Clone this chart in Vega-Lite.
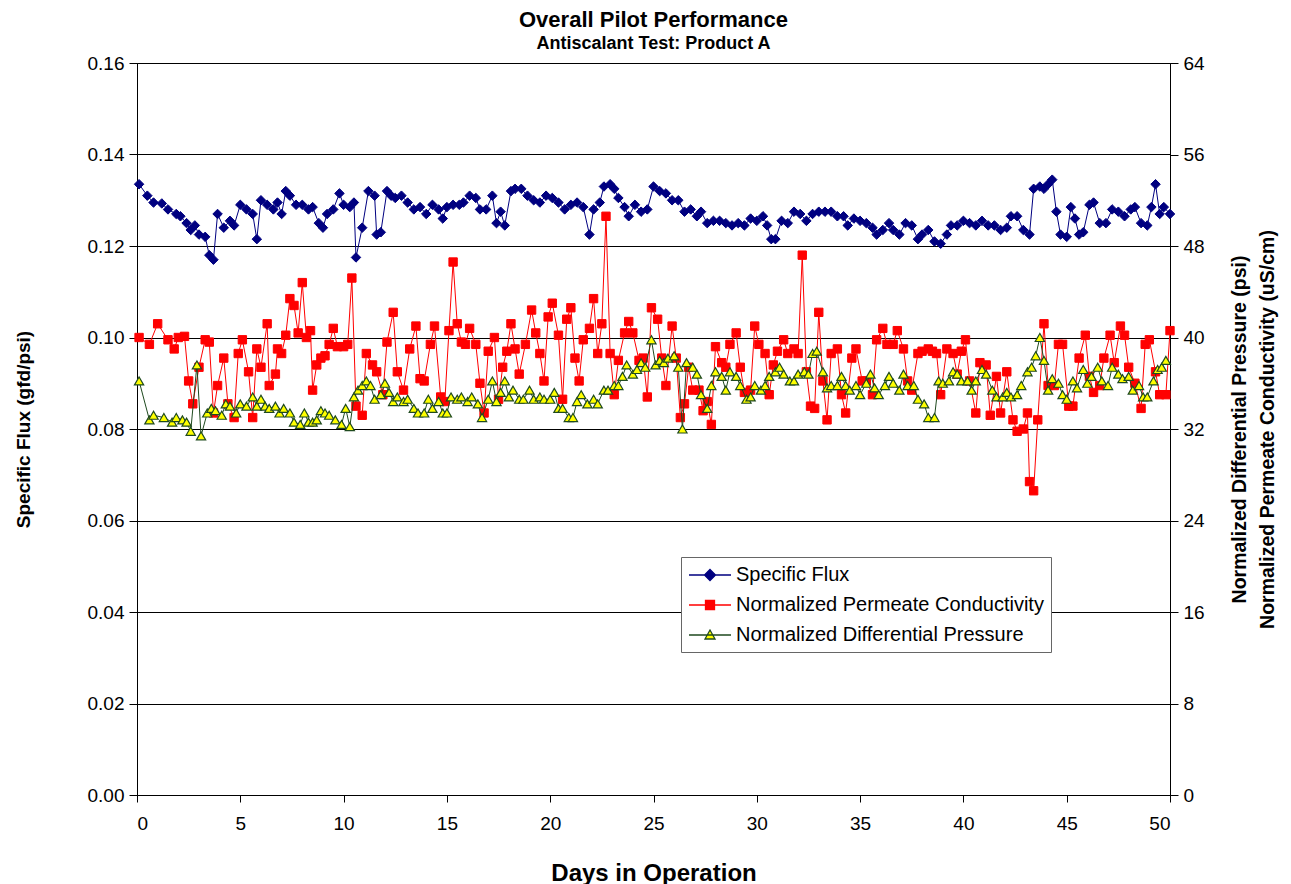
{
  "$schema": "https://vega.github.io/schema/vega-lite/v6.json",
  "width": 1033,
  "height": 732,
  "autosize": {"type": "none"},
  "padding": {"left": 137, "top": 63, "right": 121, "bottom": 89},
  "background": "white",
  "title": {
    "text": "Overall Pilot Performance",
    "subtitle": "Antiscalant Test: Product A",
    "anchor": "middle",
    "font": "Liberation Sans",
    "subtitleFont": "Liberation Sans",
    "fontSize": 22,
    "subtitleFontSize": 18,
    "fontWeight": "bold",
    "subtitleFontWeight": "bold",
    "color": "black",
    "subtitleColor": "black",
    "offset": 0,
    "subtitlePadding": 3
  },
  "datasets": {
    "flux": [
      {"day":0.1,"value":0.1335},{"day":0.5,"value":0.131},{"day":0.8,"value":0.1295},{"day":1.2,"value":0.1293},{"day":1.5,"value":0.128},{"day":1.9,"value":0.127},{"day":2.1,"value":0.1265},{"day":2.4,"value":0.125},{"day":2.6,"value":0.1235},{"day":2.8,"value":0.1245},{"day":3.0,"value":0.1225},{"day":3.3,"value":0.122},{"day":3.5,"value":0.118},{"day":3.7,"value":0.117},{"day":3.9,"value":0.127},{"day":4.2,"value":0.124},{"day":4.5,"value":0.1255},{"day":4.7,"value":0.1245},{"day":5.0,"value":0.129},{"day":5.3,"value":0.128},{"day":5.6,"value":0.127},{"day":5.8,"value":0.1215},{"day":6.0,"value":0.13},{"day":6.3,"value":0.129},{"day":6.6,"value":0.128},{"day":6.8,"value":0.1295},{"day":7.0,"value":0.127},{"day":7.2,"value":0.132},{"day":7.4,"value":0.131},{"day":7.7,"value":0.129},{"day":8.0,"value":0.129},{"day":8.3,"value":0.128},{"day":8.5,"value":0.1285},{"day":8.8,"value":0.125},{"day":9.0,"value":0.124},{"day":9.2,"value":0.127},{"day":9.5,"value":0.128},{"day":9.8,"value":0.1315},{"day":10.0,"value":0.129},{"day":10.3,"value":0.1285},{"day":10.5,"value":0.1295},{"day":10.6,"value":0.1175},{"day":10.9,"value":0.124},{"day":11.2,"value":0.132},{"day":11.5,"value":0.131},{"day":11.6,"value":0.1225},{"day":11.8,"value":0.123},{"day":12.1,"value":0.132},{"day":12.3,"value":0.131},{"day":12.5,"value":0.1305},{"day":12.8,"value":0.131},{"day":13.1,"value":0.1295},{"day":13.4,"value":0.128},{"day":13.7,"value":0.1285},{"day":14.0,"value":0.127},{"day":14.3,"value":0.129},{"day":14.6,"value":0.128},{"day":14.8,"value":0.126},{"day":15.0,"value":0.1285},{"day":15.3,"value":0.129},{"day":15.6,"value":0.129},{"day":15.8,"value":0.1295},{"day":16.1,"value":0.131},{"day":16.4,"value":0.1305},{"day":16.6,"value":0.128},{"day":16.9,"value":0.128},{"day":17.2,"value":0.131},{"day":17.4,"value":0.125},{"day":17.6,"value":0.1275},{"day":17.8,"value":0.1245},{"day":18.1,"value":0.132},{"day":18.3,"value":0.1325},{"day":18.6,"value":0.1325},{"day":18.9,"value":0.131},{"day":19.2,"value":0.13},{"day":19.5,"value":0.1295},{"day":19.8,"value":0.131},{"day":20.1,"value":0.1305},{"day":20.4,"value":0.1295},{"day":20.7,"value":0.128},{"day":21.0,"value":0.129},{"day":21.3,"value":0.1295},{"day":21.6,"value":0.1285},{"day":21.9,"value":0.1225},{"day":22.1,"value":0.128},{"day":22.4,"value":0.1295},{"day":22.6,"value":0.133},{"day":22.9,"value":0.1335},{"day":23.1,"value":0.1325},{"day":23.3,"value":0.1305},{"day":23.6,"value":0.1285},{"day":23.8,"value":0.1265},{"day":24.1,"value":0.129},{"day":24.4,"value":0.1275},{"day":24.7,"value":0.128},{"day":25.0,"value":0.133},{"day":25.3,"value":0.132},{"day":25.6,"value":0.1315},{"day":25.9,"value":0.13},{"day":26.2,"value":0.13},{"day":26.5,"value":0.1275},{"day":26.8,"value":0.128},{"day":27.1,"value":0.1265},{"day":27.3,"value":0.1275},{"day":27.6,"value":0.125},{"day":27.9,"value":0.1255},{"day":28.2,"value":0.1255},{"day":28.5,"value":0.125},{"day":28.8,"value":0.1245},{"day":29.1,"value":0.125},{"day":29.4,"value":0.1245},{"day":29.7,"value":0.126},{"day":30.0,"value":0.1255},{"day":30.3,"value":0.1265},{"day":30.5,"value":0.1245},{"day":30.7,"value":0.1215},{"day":30.9,"value":0.1215},{"day":31.2,"value":0.1255},{"day":31.5,"value":0.125},{"day":31.8,"value":0.1275},{"day":32.1,"value":0.127},{"day":32.4,"value":0.1255},{"day":32.7,"value":0.127},{"day":33.0,"value":0.1275},{"day":33.3,"value":0.1275},{"day":33.6,"value":0.1275},{"day":33.9,"value":0.1265},{"day":34.2,"value":0.1265},{"day":34.4,"value":0.1245},{"day":34.7,"value":0.126},{"day":35.0,"value":0.1255},{"day":35.3,"value":0.125},{"day":35.6,"value":0.124},{"day":35.8,"value":0.1225},{"day":36.1,"value":0.1235},{"day":36.4,"value":0.125},{"day":36.6,"value":0.1235},{"day":36.9,"value":0.1225},{"day":37.2,"value":0.125},{"day":37.5,"value":0.1245},{"day":37.8,"value":0.1215},{"day":38.0,"value":0.1225},{"day":38.3,"value":0.1235},{"day":38.6,"value":0.121},{"day":38.9,"value":0.1205},{"day":39.2,"value":0.1225},{"day":39.4,"value":0.1245},{"day":39.7,"value":0.1245},{"day":40.0,"value":0.1255},{"day":40.3,"value":0.125},{"day":40.6,"value":0.1245},{"day":40.9,"value":0.1255},{"day":41.2,"value":0.1245},{"day":41.5,"value":0.1245},{"day":41.8,"value":0.1235},{"day":42.1,"value":0.124},{"day":42.3,"value":0.1265},{"day":42.6,"value":0.1265},{"day":42.9,"value":0.1235},{"day":43.2,"value":0.1225},{"day":43.4,"value":0.1325},{"day":43.7,"value":0.133},{"day":43.9,"value":0.1325},{"day":44.1,"value":0.1335},{"day":44.3,"value":0.1345},{"day":44.5,"value":0.1275},{"day":44.7,"value":0.1225},{"day":45.0,"value":0.122},{"day":45.2,"value":0.1285},{"day":45.4,"value":0.126},{"day":45.6,"value":0.1225},{"day":45.8,"value":0.123},{"day":46.1,"value":0.129},{"day":46.3,"value":0.1295},{"day":46.6,"value":0.125},{"day":46.9,"value":0.125},{"day":47.2,"value":0.128},{"day":47.5,"value":0.1275},{"day":47.8,"value":0.1265},{"day":48.1,"value":0.128},{"day":48.3,"value":0.1285},{"day":48.6,"value":0.125},{"day":48.9,"value":0.1245},{"day":49.1,"value":0.1285},{"day":49.3,"value":0.1335},{"day":49.5,"value":0.127},{"day":49.7,"value":0.1285},{"day":50.0,"value":0.127}
    ],
    "conductivity": [
      {"day":0.1,"value":40.0},{"day":0.6,"value":39.4},{"day":1.0,"value":41.2},{"day":1.5,"value":39.8},{"day":1.8,"value":39.0},{"day":2.0,"value":40.0},{"day":2.3,"value":40.1},{"day":2.5,"value":36.2},{"day":2.7,"value":34.2},{"day":3.0,"value":37.4},{"day":3.3,"value":39.8},{"day":3.5,"value":39.6},{"day":3.7,"value":33.4},{"day":3.9,"value":35.8},{"day":4.2,"value":38.2},{"day":4.4,"value":34.2},{"day":4.7,"value":33.0},{"day":4.9,"value":38.6},{"day":5.1,"value":39.8},{"day":5.4,"value":37.0},{"day":5.6,"value":33.0},{"day":5.8,"value":39.0},{"day":6.0,"value":37.4},{"day":6.3,"value":41.2},{"day":6.4,"value":35.8},{"day":6.7,"value":36.8},{"day":6.8,"value":39.0},{"day":7.0,"value":38.6},{"day":7.2,"value":40.2},{"day":7.4,"value":43.4},{"day":7.6,"value":42.8},{"day":7.8,"value":40.4},{"day":8.0,"value":44.8},{"day":8.2,"value":40.0},{"day":8.4,"value":40.6},{"day":8.5,"value":35.4},{"day":8.7,"value":37.6},{"day":8.9,"value":38.2},{"day":9.1,"value":38.4},{"day":9.3,"value":39.4},{"day":9.5,"value":40.8},{"day":9.7,"value":39.2},{"day":10.0,"value":39.2},{"day":10.2,"value":39.4},{"day":10.4,"value":45.2},{"day":10.6,"value":34.0},{"day":10.9,"value":33.2},{"day":11.1,"value":38.6},{"day":11.4,"value":37.6},{"day":11.6,"value":37.0},{"day":11.9,"value":35.0},{"day":12.1,"value":39.6},{"day":12.4,"value":42.2},{"day":12.6,"value":37.0},{"day":12.9,"value":35.4},{"day":13.2,"value":39.0},{"day":13.5,"value":41.0},{"day":13.7,"value":36.4},{"day":13.9,"value":36.2},{"day":14.2,"value":39.4},{"day":14.4,"value":41.0},{"day":14.7,"value":34.8},{"day":14.9,"value":34.4},{"day":15.1,"value":40.6},{"day":15.3,"value":46.6},{"day":15.5,"value":41.2},{"day":15.7,"value":39.6},{"day":15.9,"value":39.4},{"day":16.1,"value":40.8},{"day":16.4,"value":39.4},{"day":16.6,"value":36.0},{"day":16.8,"value":33.4},{"day":17.0,"value":38.8},{"day":17.3,"value":40.0},{"day":17.5,"value":34.6},{"day":17.7,"value":37.4},{"day":17.9,"value":38.8},{"day":18.1,"value":41.2},{"day":18.3,"value":39.0},{"day":18.5,"value":36.8},{"day":18.8,"value":39.4},{"day":19.1,"value":42.4},{"day":19.3,"value":40.4},{"day":19.5,"value":38.6},{"day":19.7,"value":36.2},{"day":19.9,"value":41.8},{"day":20.1,"value":43.0},{"day":20.4,"value":40.2},{"day":20.6,"value":34.6},{"day":20.8,"value":41.6},{"day":21.0,"value":42.6},{"day":21.2,"value":38.2},{"day":21.4,"value":36.2},{"day":21.6,"value":39.8},{"day":21.9,"value":40.8},{"day":22.1,"value":43.4},{"day":22.3,"value":38.6},{"day":22.5,"value":41.2},{"day":22.7,"value":50.6},{"day":22.9,"value":38.6},{"day":23.1,"value":35.0},{"day":23.3,"value":38.0},{"day":23.6,"value":40.4},{"day":23.8,"value":41.4},{"day":24.0,"value":40.4},{"day":24.3,"value":38.0},{"day":24.5,"value":38.2},{"day":24.7,"value":34.8},{"day":24.9,"value":42.6},{"day":25.2,"value":41.6},{"day":25.4,"value":38.2},{"day":25.6,"value":35.8},{"day":25.9,"value":41.0},{"day":26.1,"value":38.2},{"day":26.3,"value":33.0},{"day":26.5,"value":34.2},{"day":26.7,"value":37.4},{"day":26.9,"value":35.4},{"day":27.2,"value":35.4},{"day":27.4,"value":33.6},{"day":27.6,"value":34.4},{"day":27.8,"value":32.4},{"day":28.0,"value":39.2},{"day":28.3,"value":37.8},{"day":28.5,"value":37.4},{"day":28.7,"value":39.4},{"day":29.0,"value":40.4},{"day":29.2,"value":37.4},{"day":29.4,"value":35.2},{"day":29.7,"value":35.4},{"day":29.9,"value":41.0},{"day":30.1,"value":39.4},{"day":30.4,"value":38.6},{"day":30.6,"value":35.0},{"day":30.8,"value":37.6},{"day":31.0,"value":38.8},{"day":31.3,"value":39.8},{"day":31.5,"value":38.6},{"day":31.8,"value":39.0},{"day":32.0,"value":38.6},{"day":32.2,"value":47.2},{"day":32.4,"value":37.0},{"day":32.6,"value":34.0},{"day":32.8,"value":33.8},{"day":33.0,"value":42.2},{"day":33.2,"value":36.2},{"day":33.4,"value":32.8},{"day":33.6,"value":38.6},{"day":33.9,"value":39.0},{"day":34.1,"value":35.0},{"day":34.3,"value":33.4},{"day":34.6,"value":38.2},{"day":34.8,"value":39.0},{"day":35.1,"value":36.2},{"day":35.3,"value":36.2},{"day":35.6,"value":35.0},{"day":35.8,"value":39.8},{"day":36.1,"value":40.8},{"day":36.3,"value":39.4},{"day":36.6,"value":39.4},{"day":36.8,"value":40.6},{"day":37.1,"value":39.0},{"day":37.3,"value":36.2},{"day":37.5,"value":35.4},{"day":37.8,"value":38.6},{"day":38.0,"value":38.8},{"day":38.3,"value":39.0},{"day":38.5,"value":38.8},{"day":38.7,"value":38.6},{"day":38.9,"value":35.0},{"day":39.2,"value":39.0},{"day":39.5,"value":38.6},{"day":39.7,"value":36.8},{"day":39.9,"value":38.8},{"day":40.1,"value":39.8},{"day":40.3,"value":36.2},{"day":40.6,"value":33.4},{"day":40.8,"value":37.8},{"day":41.1,"value":37.6},{"day":41.3,"value":33.2},{"day":41.6,"value":36.6},{"day":41.8,"value":33.4},{"day":42.1,"value":37.0},{"day":42.4,"value":32.8},{"day":42.6,"value":31.8},{"day":42.9,"value":32.0},{"day":43.1,"value":33.4},{"day":43.2,"value":27.4},{"day":43.4,"value":26.6},{"day":43.6,"value":32.8},{"day":43.9,"value":41.2},{"day":44.1,"value":35.8},{"day":44.4,"value":35.8},{"day":44.6,"value":39.4},{"day":44.8,"value":39.4},{"day":45.1,"value":34.0},{"day":45.3,"value":34.0},{"day":45.6,"value":38.2},{"day":45.9,"value":40.2},{"day":46.1,"value":36.6},{"day":46.3,"value":35.2},{"day":46.6,"value":35.8},{"day":46.8,"value":38.2},{"day":47.1,"value":40.2},{"day":47.3,"value":37.8},{"day":47.6,"value":41.0},{"day":47.8,"value":40.2},{"day":48.0,"value":37.4},{"day":48.3,"value":36.0},{"day":48.6,"value":33.8},{"day":48.8,"value":39.4},{"day":49.0,"value":39.8},{"day":49.3,"value":37.0},{"day":49.5,"value":35.0},{"day":49.8,"value":35.0},{"day":50.0,"value":40.6}
    ],
    "pressure": [
      {"day":0.1,"value":36.2},{"day":0.6,"value":32.8},{"day":0.8,"value":33.2},{"day":1.3,"value":33.0},{"day":1.7,"value":32.6},{"day":1.9,"value":33.0},{"day":2.2,"value":32.8},{"day":2.4,"value":32.6},{"day":2.6,"value":31.8},{"day":2.9,"value":37.6},{"day":3.1,"value":31.4},{"day":3.4,"value":33.4},{"day":3.6,"value":33.8},{"day":3.8,"value":33.6},{"day":4.1,"value":33.2},{"day":4.3,"value":34.2},{"day":4.5,"value":34.0},{"day":4.8,"value":33.4},{"day":5.0,"value":34.2},{"day":5.3,"value":34.0},{"day":5.6,"value":34.8},{"day":5.8,"value":34.0},{"day":6.0,"value":34.6},{"day":6.2,"value":34.0},{"day":6.4,"value":33.8},{"day":6.7,"value":34.0},{"day":6.9,"value":33.4},{"day":7.1,"value":33.8},{"day":7.4,"value":33.4},{"day":7.6,"value":32.6},{"day":7.9,"value":32.4},{"day":8.1,"value":33.4},{"day":8.3,"value":32.6},{"day":8.5,"value":32.6},{"day":8.7,"value":32.8},{"day":8.9,"value":33.6},{"day":9.1,"value":33.4},{"day":9.3,"value":33.2},{"day":9.6,"value":32.8},{"day":9.9,"value":32.4},{"day":10.1,"value":33.8},{"day":10.3,"value":32.2},{"day":10.5,"value":34.8},{"day":10.7,"value":35.4},{"day":10.9,"value":35.8},{"day":11.1,"value":36.2},{"day":11.3,"value":35.8},{"day":11.5,"value":34.6},{"day":11.8,"value":35.0},{"day":12.0,"value":36.0},{"day":12.2,"value":35.2},{"day":12.4,"value":34.4},{"day":12.6,"value":34.8},{"day":12.9,"value":34.4},{"day":13.1,"value":34.6},{"day":13.4,"value":33.8},{"day":13.6,"value":33.4},{"day":13.9,"value":33.4},{"day":14.1,"value":34.6},{"day":14.3,"value":33.8},{"day":14.6,"value":34.4},{"day":14.8,"value":33.4},{"day":15.0,"value":33.4},{"day":15.2,"value":34.8},{"day":15.5,"value":34.6},{"day":15.7,"value":34.8},{"day":16.0,"value":34.4},{"day":16.2,"value":34.8},{"day":16.5,"value":34.2},{"day":16.7,"value":33.0},{"day":17.0,"value":34.6},{"day":17.2,"value":36.2},{"day":17.4,"value":34.4},{"day":17.6,"value":35.2},{"day":17.8,"value":36.2},{"day":18.0,"value":34.8},{"day":18.2,"value":35.4},{"day":18.5,"value":34.6},{"day":18.7,"value":34.6},{"day":19.0,"value":35.4},{"day":19.2,"value":34.6},{"day":19.5,"value":34.8},{"day":19.7,"value":34.6},{"day":20.0,"value":34.6},{"day":20.2,"value":35.2},{"day":20.4,"value":33.8},{"day":20.6,"value":33.8},{"day":20.9,"value":33.0},{"day":21.1,"value":33.0},{"day":21.3,"value":34.4},{"day":21.5,"value":35.0},{"day":21.8,"value":34.2},{"day":22.1,"value":34.6},{"day":22.3,"value":34.2},{"day":22.6,"value":35.4},{"day":22.8,"value":35.4},{"day":23.1,"value":35.8},{"day":23.3,"value":35.8},{"day":23.5,"value":36.6},{"day":23.7,"value":37.6},{"day":24.0,"value":36.8},{"day":24.2,"value":37.2},{"day":24.4,"value":37.8},{"day":24.6,"value":37.4},{"day":24.9,"value":39.8},{"day":25.1,"value":37.6},{"day":25.3,"value":38.0},{"day":25.5,"value":37.8},{"day":25.7,"value":38.2},{"day":26.0,"value":38.4},{"day":26.2,"value":37.4},{"day":26.4,"value":32.0},{"day":26.6,"value":37.8},{"day":26.9,"value":37.4},{"day":27.1,"value":36.8},{"day":27.3,"value":35.0},{"day":27.6,"value":33.8},{"day":27.8,"value":35.8},{"day":28.0,"value":37.0},{"day":28.3,"value":36.6},{"day":28.5,"value":35.4},{"day":28.7,"value":37.0},{"day":29.0,"value":36.6},{"day":29.2,"value":35.8},{"day":29.5,"value":34.6},{"day":29.7,"value":34.8},{"day":29.9,"value":35.8},{"day":30.2,"value":35.4},{"day":30.4,"value":35.8},{"day":30.6,"value":36.6},{"day":30.9,"value":37.0},{"day":31.1,"value":37.4},{"day":31.3,"value":36.8},{"day":31.6,"value":36.2},{"day":31.8,"value":36.2},{"day":32.0,"value":36.8},{"day":32.3,"value":37.0},{"day":32.5,"value":36.8},{"day":32.7,"value":38.6},{"day":32.9,"value":38.8},{"day":33.2,"value":37.0},{"day":33.4,"value":35.6},{"day":33.6,"value":35.8},{"day":33.9,"value":35.8},{"day":34.1,"value":36.6},{"day":34.3,"value":35.8},{"day":34.5,"value":35.4},{"day":34.8,"value":35.8},{"day":35.0,"value":35.0},{"day":35.3,"value":36.0},{"day":35.5,"value":36.8},{"day":35.7,"value":35.6},{"day":35.9,"value":35.0},{"day":36.2,"value":35.8},{"day":36.4,"value":36.6},{"day":36.6,"value":36.0},{"day":36.9,"value":35.4},{"day":37.1,"value":36.8},{"day":37.3,"value":35.8},{"day":37.6,"value":35.8},{"day":37.8,"value":34.6},{"day":38.1,"value":34.2},{"day":38.3,"value":33.0},{"day":38.6,"value":33.0},{"day":38.8,"value":36.2},{"day":39.0,"value":36.0},{"day":39.3,"value":36.2},{"day":39.5,"value":37.0},{"day":39.7,"value":36.8},{"day":39.9,"value":36.2},{"day":40.2,"value":36.2},{"day":40.4,"value":35.4},{"day":40.6,"value":36.2},{"day":40.9,"value":37.2},{"day":41.1,"value":36.8},{"day":41.4,"value":35.4},{"day":41.6,"value":34.8},{"day":41.9,"value":34.8},{"day":42.1,"value":35.2},{"day":42.3,"value":34.8},{"day":42.6,"value":35.0},{"day":42.8,"value":35.8},{"day":43.1,"value":37.0},{"day":43.3,"value":37.4},{"day":43.5,"value":38.4},{"day":43.7,"value":40.0},{"day":43.9,"value":38.0},{"day":44.1,"value":35.4},{"day":44.3,"value":36.4},{"day":44.6,"value":36.0},{"day":44.8,"value":35.0},{"day":45.0,"value":34.6},{"day":45.3,"value":36.2},{"day":45.5,"value":35.6},{"day":45.8,"value":37.2},{"day":46.0,"value":36.0},{"day":46.2,"value":36.6},{"day":46.5,"value":37.4},{"day":46.7,"value":36.2},{"day":47.0,"value":35.8},{"day":47.2,"value":37.4},{"day":47.5,"value":36.8},{"day":47.7,"value":36.4},{"day":48.0,"value":36.6},{"day":48.2,"value":35.4},{"day":48.5,"value":35.8},{"day":48.7,"value":34.8},{"day":48.9,"value":34.8},{"day":49.2,"value":36.2},{"day":49.4,"value":37.2},{"day":49.6,"value":37.4},{"day":49.8,"value":38.0}
    ]
  },
  "layer": [
    {
      "data": {"name": "flux"},
      "encoding": {
        "x": {"field": "day", "type": "quantitative", "scale": {"domain": [0, 50], "nice": false, "zero": false},
          "axis": {"values": [0,5,10,15,20,25,30,35,40,45,50], "title": "Days in Operation", "titleFontSize": 24, "tickSize": 7, "labelPadding": 12, "titlePadding": 28, "grid": false}},
        "y": {"field": "value", "type": "quantitative", "scale": {"domain": [0, 0.16], "nice": false},
          "axis": {"orient": "left", "values": [0,0.02,0.04,0.06,0.08,0.1,0.12,0.14,0.16], "format": ".2f", "grid": true, "title": "Specific Flux (gfd/psi)", "titleFontSize": 19, "titlePadding": 54, "tickSize": 8, "labelPadding": 5}}
      },
      "layer": [
        {"mark": {"type": "line", "strokeWidth": 1, "clip": true},
         "encoding": {"stroke": {"datum": "Specific Flux", "type": "nominal",
            "scale": {"domain": ["Specific Flux", "Normalized Permeate Conductivity", "Normalized Differential Pressure"], "range": ["#000080", "#ff0000", "#1f4a1f"]},
            "legend": {
              "title": null, "orient": "none", "legendX": 544, "legendY": 494,
              "strokeColor": "#666666", "fillColor": "white", "padding": 7,
              "labelFontSize": 20, "labelColor": "black", "labelFont": "Liberation Sans", "labelLimit": 500,
              "symbolSize": 400, "symbolOffset": 11, "labelOffset": 15, "rowPadding": 9,
              "symbolStrokeWidth": 1.3,
              "encode": {"symbols": {"update": {
                "shape": {"signal": "datum.value === 'Specific Flux' ? 'M-2.1,0H2.1M0,-0.55L0.55,0L0,0.55L-0.55,0Z' : datum.value === 'Normalized Permeate Conductivity' ? 'M-2.1,0H2.1M-0.45,-0.45H0.45V0.45H-0.45Z' : 'M-2.1,0H2.1M0,-0.5L0.5,0.4H-0.5Z'"},
                "fill": {"signal": "datum.value === 'Specific Flux' ? '#000080' : datum.value === 'Normalized Permeate Conductivity' ? '#ff0000' : '#ffff00'"},
                "opacity": {"value": 1}
              }}}
            }}}},
        {"mark": {"type": "point", "shape": "diamond", "filled": true, "fill": "#000080", "stroke": "#000080", "strokeWidth": 1, "size": 90, "opacity": 1}}
      ]
    },
    {
      "encoding": {
        "x": {"field": "day", "type": "quantitative", "scale": {"domain": [0, 50], "nice": false, "zero": false}},
        "y": {"field": "value", "type": "quantitative", "scale": {"domain": [0, 64], "nice": false},
          "axis": {"orient": "right", "values": [0,8,16,24,32,40,48,56,64], "grid": false,
            "title": ["Normalized Differential Pressure (psi)", "Normalized Permeate Conductivity (uS/cm)"],
            "titleFontSize": 19.5, "titleAngle": 270, "titlePadding": 17, "titleLineHeight": 28, "tickSize": 8, "labelPadding": 5}}
      },
      "layer": [
        {"data": {"name": "conductivity"},
         "mark": {"type": "line", "strokeWidth": 1, "clip": true},
         "encoding": {"stroke": {"datum": "Normalized Permeate Conductivity", "type": "nominal"}}},
        {"data": {"name": "conductivity"},
         "mark": {"type": "point", "shape": "square", "filled": true, "fill": "#ff0000", "stroke": "#ff0000", "strokeWidth": 1, "size": 70, "opacity": 1}},
        {"data": {"name": "pressure"},
         "mark": {"type": "line", "strokeWidth": 1, "clip": true},
         "encoding": {"stroke": {"datum": "Normalized Differential Pressure", "type": "nominal"}}},
        {"data": {"name": "pressure"},
         "mark": {"type": "point", "shape": "triangle-up", "filled": true, "fill": "#ffff00", "stroke": "#1f4a1f", "strokeWidth": 1.2, "size": 85, "opacity": 1}}
      ]
    }
  ],
  "resolve": {"scale": {"y": "independent"}},
  "config": {
    "font": "Liberation Sans",
    "view": {"stroke": "black", "strokeWidth": 1},
    "axis": {
      "labelFont": "Liberation Sans", "titleFont": "Liberation Sans",
      "labelColor": "black", "titleColor": "black", "domainColor": "black", "tickColor": "black",
      "labelFontSize": 19, "titleFontSize": 19, "titleFontWeight": "bold",
      "tickSize": 7, "gridColor": "black", "gridOpacity": 1, "gridWidth": 1
    }
  }
}
